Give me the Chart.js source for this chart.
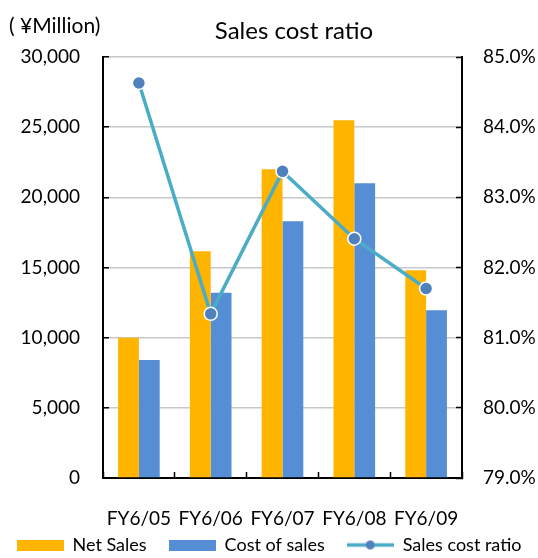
<!DOCTYPE html>
<html>
<head>
<meta charset="utf-8">
<script src="https://cdn.jsdelivr.net/npm/chart.js@4"></script>
<style>
  html, body { margin: 0; padding: 0; background: #fff; }
  #wrap { width: 538px; height: 558px; }
</style>
</head>
<body>
<div id="wrap"><canvas id="myChart"></canvas></div>
<script>
const years = ['FY6/05', 'FY6/06', 'FY6/07', 'FY6/08', 'FY6/09'];
const netSales = [10000, 16150, 22000, 25500, 14800];
const costOfSales = [8400, 13200, 18300, 21000, 11950];
const costRatio = [84.63, 81.34, 83.37, 82.41, 81.70];

const FONT = 'Lato';

/* legend swatches */
function swatch(color) {
    const c = document.createElement('canvas');
    c.width = 47; c.height = 11;
    const g = c.getContext('2d');
    g.fillStyle = color;
    g.fillRect(0, 0, 47, 11);
    return c;
}
function lineSwatch() {
    const c = document.createElement('canvas');
    c.width = 47; c.height = 11;
    const g = c.getContext('2d');
    g.strokeStyle = '#4BACC6';
    g.lineWidth = 3.5;
    g.beginPath(); g.moveTo(0, 5.5); g.lineTo(47, 5.5); g.stroke();
    g.fillStyle = '#4F81BD';
    g.beginPath(); g.arc(23.5, 5.5, 4.5, 0, Math.PI * 2); g.fill();
    return c;
}
const legendIcons = [swatch('#FFB400'), swatch('#558ED5'), lineSwatch()];

/* title and unit text */
const headerText = {
    id: 'headerText',
    afterDraw(chart) {
        const ctx = chart.ctx;
        ctx.save();
        ctx.fillStyle = '#000';
        ctx.textBaseline = 'alphabetic';
        ctx.font = '24px ' + FONT;
        ctx.textAlign = 'center';
        ctx.fillText('Sales cost ratio', 294, 39);
        ctx.font = '21px ' + FONT;
        ctx.textAlign = 'left';
        ctx.fillText('( ¥Million)', 9, 33);
        ctx.restore();
    }
};

new Chart(document.getElementById('myChart'), {
    type: 'bar',
    data: {
        labels: years,
        datasets: [{
            label: 'Net Sales',
            data: netSales,
            backgroundColor: '#FFB400',
            yAxisID: 'y',
            order: 2
        }, {
            label: 'Cost of sales',
            data: costOfSales,
            backgroundColor: '#558ED5',
            yAxisID: 'y',
            order: 2
        }, {
            type: 'line',
            label: 'Sales cost ratio',
            data: costRatio,
            borderColor: '#4BACC6',
            borderWidth: 3.5,
            pointBackgroundColor: '#4F81BD',
            pointBorderColor: '#FFFFFF',
            pointBorderWidth: 1.5,
            pointRadius: 6.5,
            tension: 0,
            yAxisID: 'y1',
            order: 0
        }]
    },
    options: {
        responsive: true,
        maintainAspectRatio: false,
        animation: false,
        datasets: {
            bar: { categoryPercentage: 0.58, barPercentage: 1 }
        },
        layout: { padding: { top: 57, left: 0, right: 0, bottom: -6 } },
        plugins: {
            title: { display: false },
            tooltip: { enabled: false },
            legend: {
                position: 'bottom',
                labels: {
                    color: '#000',
                    font: { family: FONT, size: 18 },
                    usePointStyle: true,
                    pointStyleWidth: 47,
                    boxHeight: 11,
                    padding: 4,
                    generateLabels(chart) {
                        const items = Chart.defaults.plugins.legend.labels.generateLabels(chart);
                        items.forEach(it => {
                            it.pointStyle = legendIcons[it.datasetIndex];
                            if (it.datasetIndex < 2) it.text += '\u2002\u2002';
                        });
                        return items.sort((a, b) => a.datasetIndex - b.datasetIndex);
                    }
                }
            }
        },
        scales: {
            x: {
                grid: {
                    display: true,
                    drawOnChartArea: false,
                    tickLength: -6,
                    tickColor: '#000',
                    tickWidth: 1.5
                },
                border: { color: '#000', width: 2 },
                ticks: { color: '#000', font: { family: FONT, size: 19 }, padding: 35 },
                afterFit(scale) { scale.height = 54; }
            },
            y: {
                position: 'left',
                min: 0,
                max: 30000,
                grid: {
                    color: '#C8C8C8',
                    lineWidth: 1.5,
                    tickLength: -6,
                    tickColor: '#000',
                    tickWidth: 1.5
                },
                border: { color: '#000', width: 2 },
                ticks: {
                    stepSize: 5000,
                    color: '#000',
                    font: { family: FONT, size: 19 },
                    padding: 29,
                    callback: v => v.toLocaleString('en-US')
                },
                afterFit(scale) { scale.width = 103; }
            },
            y1: {
                position: 'right',
                min: 79,
                max: 85,
                grid: {
                    drawOnChartArea: false,
                    tickLength: -6,
                    tickColor: '#000',
                    tickWidth: 1.5
                },
                border: { color: '#000', width: 2 },
                ticks: {
                    stepSize: 1,
                    color: '#000',
                    font: { family: FONT, size: 19 },
                    padding: 27,
                    callback: v => v.toFixed(1) + '%'
                },
                afterFit(scale) { scale.width = 76; }
            }
        }
    },
    plugins: [headerText]
});
</script>
</body>
</html>
